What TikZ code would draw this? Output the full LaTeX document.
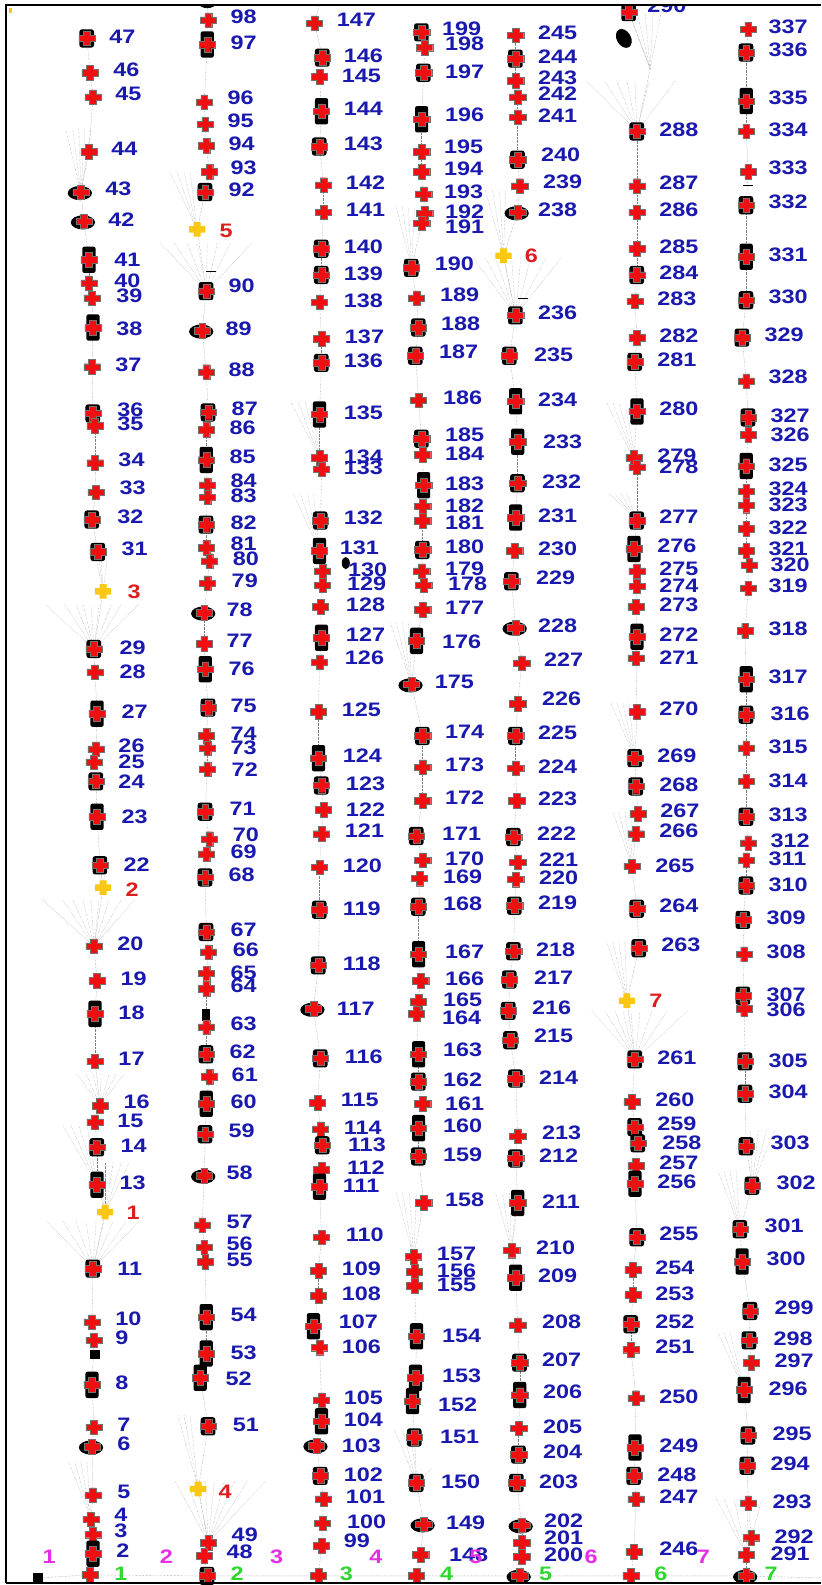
\documentclass[tikz,border=0pt]{standalone}
\usepackage{fontspec}
\setmainfont{Liberation Sans}
\usepackage{graphicx}
\definecolor{xred}{RGB}{238,16,16}
\definecolor{xyel}{RGB}{250,200,20}
\definecolor{xblue}{RGB}{25,25,175}
\definecolor{xlred}{RGB}{222,30,30}
\definecolor{xmag}{RGB}{228,45,228}
\definecolor{xgreen}{RGB}{45,215,45}
\newcommand{\widen}[1]{\scalebox{1.2}[1]{#1}}
\newcommand{\fan}[3]{\foreach \fx in {#3} {\draw[fanline] (#1) -- (\fx,#2);}}
\newcommand{\seg}[2]{\pgfmathtruncatemacro{\segend}{#2-1}\foreach \si in {#1,...,\segend}{\pgfmathtruncatemacro{\sk}{\si+1}\draw[conn] (p\si) -- (p\sk);}}
\tikzset{
  pt/.style={inner sep=0pt, minimum size=0pt},
  conn/.style={draw=black!50, densely dotted, line width=0.4pt},
  fanline/.style={draw=black!45, densely dotted, line width=0.35pt},
  lbl/.style={anchor=west, inner sep=0pt, text=xblue, font=\fontsize{19.5}{20}\selectfont\bfseries},
  ylbl/.style={anchor=west, inner sep=0pt, text=xlred, font=\fontsize{19.5}{20}\selectfont\bfseries},
  mlbl/.style={anchor=west, inner sep=0pt, text=xmag, font=\fontsize{19.5}{20}\selectfont\bfseries},
  glbl/.style={anchor=west, inner sep=0pt, text=xgreen, font=\fontsize{19.5}{20}\selectfont\bfseries},
  pics/rx/.style={code={\filldraw[fill=xred,draw=black!55,line width=0.4pt] (-3.4,-7.2) -- (3.4,-7.2) -- (3.4,-3.2) -- (8,-3.2) -- (8,3.2) -- (3.4,3.2) -- (3.4,7.2) -- (-3.4,7.2) -- (-3.4,3.2) -- (-8,3.2) -- (-8,-3.2) -- (-3.4,-3.2) -- cycle;}},
  pics/yx/.style={code={\fill[xyel] (-3.4,-7.2) -- (3.4,-7.2) -- (3.4,-3.2) -- (8,-3.2) -- (8,3.2) -- (3.4,3.2) -- (3.4,7.2) -- (-3.4,7.2) -- (-3.4,3.2) -- (-8,3.2) -- (-8,-3.2) -- (-3.4,-3.2) -- cycle;}},
  pics/blobn/.style={code={}},
  pics/blobs/.style={code={\fill[black, rounded corners=2.5pt] (-7.5,-9) rectangle (7,9);}},
  pics/blobt/.style={code={\fill[black, rounded corners=2pt] (-6.5,-13) rectangle (6.5,13);}},
  pics/blobe/.style={code={\fill[black] (-1,1) ellipse [x radius=12, y radius=7];}},
}
\def\ptlist{47/86/38/s/108/36,46/89/72/n/112/69,45/92/96/n/114/93,44/88/150/n/110/147,43/80/190/e/104/187,42/83/219/e/107/217,41/88/257/t/113/257,40/88/280/n/113/278,39/91/295/n/115/293,38/92/324/t/115/325,37/91/363/n/114/361,36/92/409/s/116/405,35/94/421/n/116/419,34/94/458/n/117/455,33/95/487/n/118/483,32/91/514/s/116/511,31/97/546/s/120/543,29/93/642/s/118/641,28/94/665/n/118/665,27/96/706/t/120/704,26/95/741/n/117/738,25/93/754/n/117/754,24/95/773/s/117/773,23/96/808/t/120/808,22/99/856/s/122/855,20/93/936/n/116/934,19/96/970/n/119/968,18/94/1003/t/117/1002,17/94/1050/n/117/1047,16/99/1094/n/122/1090,15/94/1110/n/116/1109,14/96/1135/s/119/1133,13/96/1172/t/118/1170,11/92/1255/s/116/1255,10/91/1308/n/114/1305,9/93/1326/n/114/1323,8/91/1370/t/114/1368,7/93/1412/n/116/1409,6/91/1431/e/116/1428,5/92/1479/n/116/1476,4/90/1503/n/113/1499,3/92/1518/n/113/1514,2/92/1537/t/115/1534,
98/206/20/n/228/17,97/205/44/t/228/42,96/202/101/n/225/97,95/203/123/n/225/119,94/204/144/n/226/142,93/207/170/n/228/166,92/203/190/s/226/188,90/204/288/s/226/283,89/200/327/e/223/325,88/204/368/n/226/366,87/206/408/s/229/404,86/204/425/n/227/423,85/204/455/t/227/452,84/205/480/n/228/476,83/205/492/n/228/490,82/204/519/s/228/517,81/204/542/n/228/538,80/207/555/n/230/553,79/205/577/n/229/575,78/202/606/e/224/603,77/202/637/n/224/634,76/203/662/t/226/662,75/206/700/s/228/698,74/204/728/n/228/726,73/205/740/n/228/740,72/205/761/n/229/761,71/203/803/s/227/800,70/207/830/n/230/826,69/204/845/n/228/843,68/203/868/s/226/865,67/204/922/s/228/920,66/206/942/n/230/940,65/204/963/n/228/962,64/204/978/n/228/975,63/204/1016/n/228/1013,62/204/1043/s/227/1040,61/207/1065/n/229/1063,60/204/1092/t/228/1090,59/203/1122/s/226/1119,58/202/1163/e/224/1160,57/200/1212/n/224/1209,56/202/1234/n/224/1230,55/203/1248/n/224/1246,54/204/1303/t/228/1301,53/204/1339/t/228/1338,52/198/1363/t/223/1364,51/206/1411/s/230/1410,49/206/1526/n/229/1518,48/202/1539/n/224/1535,
147/311/23/n/333/20,146/319/57/s/340/55,145/316/76/n/338/75,144/318/110/t/340/108,143/316/145/s/340/142,142/320/183/n/342/181,141/320/210/n/342/208,140/318/246/s/340/244,139/318/272/s/340/271,138/316/299/n/340/298,137/318/335/n/341/333,136/318/359/s/340/357,135/316/410/t/340/408,134/316/453/n/340/452,133/318/464/n/340/463,132/317/515/s/340/512,131/316/545/t/336/542,130/319/565/n/344/564,129/319/579/n/343/578,128/317/600/n/342/598,127/318/631/t/342/628,126/316/655/n/341/651,125/315/704/n/338/702,124/315/750/t/339/748,123/318/777/s/342/775,122/320/801/n/342/801,121/318/825/n/341/822,120/316/858/n/339/856,119/316/900/s/339/899,118/315/955/s/339/953,117/310/998/e/333/998,116/317/1047/s/341/1045,115/314/1091/n/337/1088,114/317/1117/n/340/1116,113/319/1133/s/344/1133,112/318/1157/n/343/1155,111/316/1174/t/339/1173,110/318/1224/n/342/1222,109/315/1257/n/338/1255,108/315/1282/n/338/1280,107/310/1312/t/335/1308,106/316/1333/n/338/1332,105/318/1385/n/340/1383,104/318/1406/t/340/1405,103/313/1430/e/338/1430,102/317/1460/s/340/1459,101/320/1483/n/342/1481,100/319/1507/n/343/1505,99/318/1529/n/340/1524,
199/417/32/s/437/28,198/420/47/n/440/43,197/419/72/s/440/71,196/417/118/t/440/114,195/417/150/n/439/145,194/417/170/n/439/167,193/419/192/n/439/190,192/420/211/n/440/210,191/417/221/n/440/224,190/407/265/s/430/261,189/412/295/n/435/292,188/414/324/s/436/320,187/411/352/s/434/348,186/414/396/n/438/394,185/417/434/s/440/430,184/418/450/n/440/449,183/419/480/t/440/479,182/418/501/n/440/500,181/418/515/n/440/517,180/418/544/s/440/541,179/417/565/n/440/563,178/419/579/n/443/578,177/418/603/n/440/601,176/412/634/t/437/635,175/407/677/e/430/675,174/418/728/s/440/724,173/418/759/n/440/757,172/418/792/n/440/789,171/412/827/s/437/825,170/418/851/n/440/850,169/415/869/n/438/867,168/414/897/s/438/894,167/414/944/t/440/942,166/416/970/n/440/968,165/414/991/n/438/989,164/412/1003/n/437/1007,163/414/1043/t/438/1039,162/414/1070/s/438/1068,161/418/1092/n/440/1092,160/414/1116/t/438/1114,159/414/1144/s/438/1142,158/419/1190/n/440/1187,157/409/1243/n/432/1240,156/410/1258/n/432/1257,155/410/1272/n/432/1271,154/412/1322/t/437/1322,153/411/1363/t/437/1361,152/408/1386/t/433/1390,151/410/1422/s/435/1421,150/412/1467/s/436/1466,149/419/1508/e/441/1506,148/416/1538/n/444/1538,
245/510/35/n/532/32,244/510/58/s/532/56,243/510/80/n/532/77,242/512/96/n/532/93,241/512/116/n/532/114,240/512/158/s/535/153,239/514/184/n/537/180,238/512/210/e/532/208,236/510/312/s/532/309,235/504/352/s/528/351,234/510/397/t/532/396,233/512/437/t/537/437,232/512/478/s/536/477,231/510/512/t/532/510,230/509/545/n/532/543,229/506/575/s/530/572,228/510/621/e/532/619,227/516/656/n/538/653,226/512/696/n/536/691,225/510/728/s/532/725,224/510/760/n/532/758,223/511/792/n/532/790,222/508/828/s/531/825,221/512/853/n/533/850,220/510/870/n/533/868,219/509/896/s/532/893,218/508/941/s/530/940,217/504/969/s/528/967,216/503/1000/s/526/997,215/505/1029/s/528/1025,214/510/1067/s/533/1066,213/512/1124/n/536/1121,212/510/1146/s/533/1143,211/512/1190/t/536/1189,210/506/1237/n/530/1234,209/510/1264/t/532/1262,208/512/1311/n/536/1308,207/514/1348/s/536/1345,206/514/1380/t/537/1377,205/513/1413/n/537/1411,204/513/1439/s/537/1436,203/511/1467/s/533/1466,202/516/1509/e/538/1504,201/516/1526/n/538/1521,200/516/1540/n/538/1538,
290/622/12/s/640/6,288/630/130/s/652/128,287/630/184/n/652/181,286/630/210/n/652/208,285/630/246/n/652/244,284/630/272/s/652/270,283/628/298/n/650/296,282/630/334/n/652/332,281/628/358/s/650/356,280/630/407/t/652/404,279/627/453/n/650/451,278/630/462/n/652/462,277/630/515/s/652/511,276/627/543/t/650/540,275/630/565/n/652/563,274/630/580/n/652/579,273/629/600/n/652/598,272/630/630/t/652/628,271/629/651/n/652/651,270/630/704/n/652/701,269/628/750/s/650/748,268/629/778/s/652/776,267/631/805/n/653/802,266/629/825/n/652/822,265/625/857/n/648/856,264/630/899/s/652/896,263/632/938/s/654/935,261/628/1048/s/650/1046,260/625/1090/n/648/1088,259/628/1115/s/650/1112,258/631/1131/s/655/1131,257/629/1153/n/652/1150,256/628/1171/t/650/1169,255/630/1224/s/652/1221,254/626/1256/n/648/1254,253/626/1281/n/648/1280,252/624/1310/s/648/1308,251/624/1335/n/648/1332,250/629/1383/n/652/1382,249/628/1432/t/652/1430,248/627/1460/s/650/1459,247/629/1483/n/652/1481,246/627/1535/n/652/1532,
337/740/29/n/760/27,336/738/52/s/760/49,335/738/100/t/760/97,334/738/130/n/760/128,333/740/170/n/760/166,332/738/203/s/760/200,331/738/254/t/760/252,330/738/297/s/760/294,329/734/334/s/756/331,328/738/377/n/760/373,327/740/413/s/762/411,326/740/430/n/762/430,325/738/461/t/760/460,324/738/486/n/760/484,323/738/500/n/760/499,322/738/523/n/760/522,321/738/545/n/760/543,320/741/559/n/762/559,319/740/582/n/760/580,318/737/624/n/760/622,317/738/672/t/760/670,316/738/707/s/762/706,315/738/740/n/760/739,314/738/773/n/760/772,313/738/808/s/760/806,312/740/834/n/762/832,311/738/851/n/760/850,310/738/876/s/760/875,309/735/910/s/758/908,308/736/944/n/758/942,307/735/985/s/758/984,306/736/998/n/758/999,305/737/1050/s/760/1049,304/737/1082/s/760/1080,303/738/1134/s/762/1131,302/744/1173/s/768/1170,301/732/1216/s/756/1213,300/734/1248/t/758/1245,299/742/1297/s/766/1294,298/741/1326/s/765/1324,297/743/1348/n/766/1346,296/736/1375/t/760/1374,295/740/1420/s/764/1418,294/739/1450/s/762/1448,293/740/1487/n/764/1486,292/743/1521/n/766/1520,291/738/1538/n/762/1537}
\def\ylist{1/104/1199/125/1200,2/102/878/124/880,3/102/585/126/585,4/196/1473/216/1476,5/195/227/217/228,6/498/253/519/253,7/620/990/642/990}
\def\glist{1/89/1558/n/113/1557/42,2/205/1559/s/228/1557/158,3/315/1559/n/336/1557/267,4/412/1559/n/435/1557/365,5/514/1559/e/533/1557/464,6/624/1559/n/647/1557/578,7/738/1559/e/756/1557/689}
\begin{document}
\begin{tikzpicture}[x=1.01108pt,y=-1.01084pt]
\useasboundingbox (0,0) rectangle (812,1568);
\fill[white] (0,0) rectangle (812,1568);
% nodes
\foreach \pn/\px/\py/\pb/\plx/\ply in \ptlist {\node[pt] (p\pn) at (\px,\py) {};}
\foreach \yn/\yx/\yy/\ylx/\yly in \ylist {\node[pt] (y\yn) at (\yx,\yy) {};}
\foreach \gn/\gx/\gy/\gb/\glx/\gly/\gmx in \glist {\node[pt] (g\gn) at (\gx,\gy) {};}
\node[pt] (sq0) at (38,1561) {};
\node[pt] (rend) at (812,1561) {};
\node[pt] (top2) at (205,4) {};
\node[pt] (top3) at (316,4) {};
\node[pt] (q289) at (643,68) {};
% connectors
\draw[conn] (sq0) -- (g1) -- (g2) -- (g3) -- (g4) -- (g5) -- (g6) -- (g7) -- (rend);
\draw[conn] (g1) -- (p2); \seg{2}{11}; \draw[conn] (p11) -- (y1) -- (p13); \seg{13}{20};
\draw[conn] (p20) -- (y2) -- (p22); \seg{22}{29}; \draw[conn] (p29) -- (y3) -- (p31); \seg{31}{47};
\draw[conn] (g2) -- (p48); \seg{48}{49}; \draw[conn] (p49) -- (y4) -- (p51); \seg{51}{90};
\draw[conn] (p90) -- (y5) -- (p92); \seg{92}{98}; \draw[conn] (p98) -- (top2);
\draw[conn] (g3) -- (p99); \seg{99}{147}; \draw[conn] (p147) -- (top3);
\draw[conn] (g4) -- (p148); \seg{148}{199};
\draw[conn] (g5) -- (p200); \seg{200}{236}; \draw[conn] (p236) -- (y6) -- (p238); \seg{238}{245};
\draw[conn] (g6) -- (p246); \seg{246}{261}; \draw[conn] (p261) -- (y7) -- (p263); \seg{263}{288};
\draw[conn] (p288) -- (q289) -- (p290);
\draw[conn] (g7) -- (p291); \seg{291}{337};
% fans
\fan{p43}{128}{65,72,78,84,90}
\fan{y5}{170}{168,175,182,188}
\fan{p90}{240}{158,172,185,195,205,215,228,250}
\fan{y3}{552}{95,100,106}
\fan{p29}{598}{45,64,75,82,90,98,110,120,137}
\fan{y2}{860}{96,100,104}
\fan{p20}{890}{42,62,72,82,90,98,108,120,133}
\fan{p16}{1062}{76,85,92,100,108,115,123}
\fan{p13}{1113}{62,70,78,86}
\fan{y1}{1150}{96,104,112,120,128}
\fan{p11}{1208}{46,62,75,85,95,103,112,125,138}
\fan{p4}{1446}{68,74,80,86}
\fan{y4}{1400}{176,182,188}
\fan{p49}{1465}{173,185,195,203,212,222,232,245,263}
\fan{p134}{398}{288,295,302,308}
\fan{p131}{488}{290,297,304,310}
\fan{p190}{205}{392,398,404,410}
\fan{p175}{616}{386,392,398,404}
\fan{p157}{1180}{392,398,405,412}
\fan{p150}{1414}{390,398,406}
\fan{p150}{1453}{427}
\fan{y6}{188}{480,487,494,500}
\fan{p236}{255}{468,480,490,498,506,515,525,540,555}
\fan{p210}{1180}{490,497,504,511}
\fan{p288}{80}{580,598,610,620,628,642,668}
\fan{q289}{12}{622,630,638,646,654}
\fan{p278}{398}{600,606,612,618}
\fan{p277}{488}{602,608,614,620}
\fan{p269}{695}{604,610,616,622}
\fan{p265}{803}{606,612,618,624}
\fan{y7}{932}{600,606,612,618}
\fan{p261}{1000}{585,598,608,616,624,633,645,660,680}
\fan{p302}{1118}{742,750,758,766}
\fan{p301}{1158}{710,716,722,728}
\fan{p296}{1318}{710,716,722}
\fan{p291}{1482}{708,716,726,740,754}
% extra black marks
\fill[black] (sq0) ++(-5,-5) rectangle ++(10,10);
\fill[black] (89.5,1335.5) rectangle (98.5,1344.5);
\fill[black] (200,998) rectangle (208,1010);
\fill[black, rotate around={-60:(617,38)}] (617,38) ellipse [x radius=10, y radius=7];
\fill[black] (top2) ellipse [x radius=8, y radius=4];
\fill[black] (342,557) ellipse [x radius=4, y radius=6];
\draw[black, line width=0.8pt] (735,183) -- (745,183);
\draw[black, line width=0.8pt] (204,268) -- (214,268);
\draw[black, line width=0.8pt] (512,295) -- (522,295);
% markers and labels
\foreach \pn/\px/\py/\pb/\plx/\ply in \ptlist {
  \path (p\pn) pic {blob\pb};
  \path (p\pn) pic {rx};
  \node[lbl] (l\pn) at (\plx,\ply) {\widen{\pn}};
}
\foreach \yn/\yx/\yy/\ylx/\yly in \ylist {
  \path (y\yn) pic {yx};
  \node[ylbl] (ly\yn) at (\ylx,\yly) {\widen{\yn}};
}
\foreach \gn/\gx/\gy/\gb/\glx/\gly/\gmx in \glist {
  \path (g\gn) pic {blob\gb};
  \path (g\gn) pic {rx};
  \node[glbl] (lg\gn) at (\glx,\gly) {\widen{\gn}};
  \node[mlbl] (lm\gn) at (\gmx,1540) {\widen{\gn}};
}
% top mask and frame
\fill[white] (0,0) rectangle (812,4);
\fill[xyel] (9,8) rectangle (12,13);
\draw[line width=2.6pt] (6,1566) -- (6,5) -- (812,5);
\draw[line width=2.6pt] (6,1566) -- (812,1566);
\end{tikzpicture}
\end{document}
